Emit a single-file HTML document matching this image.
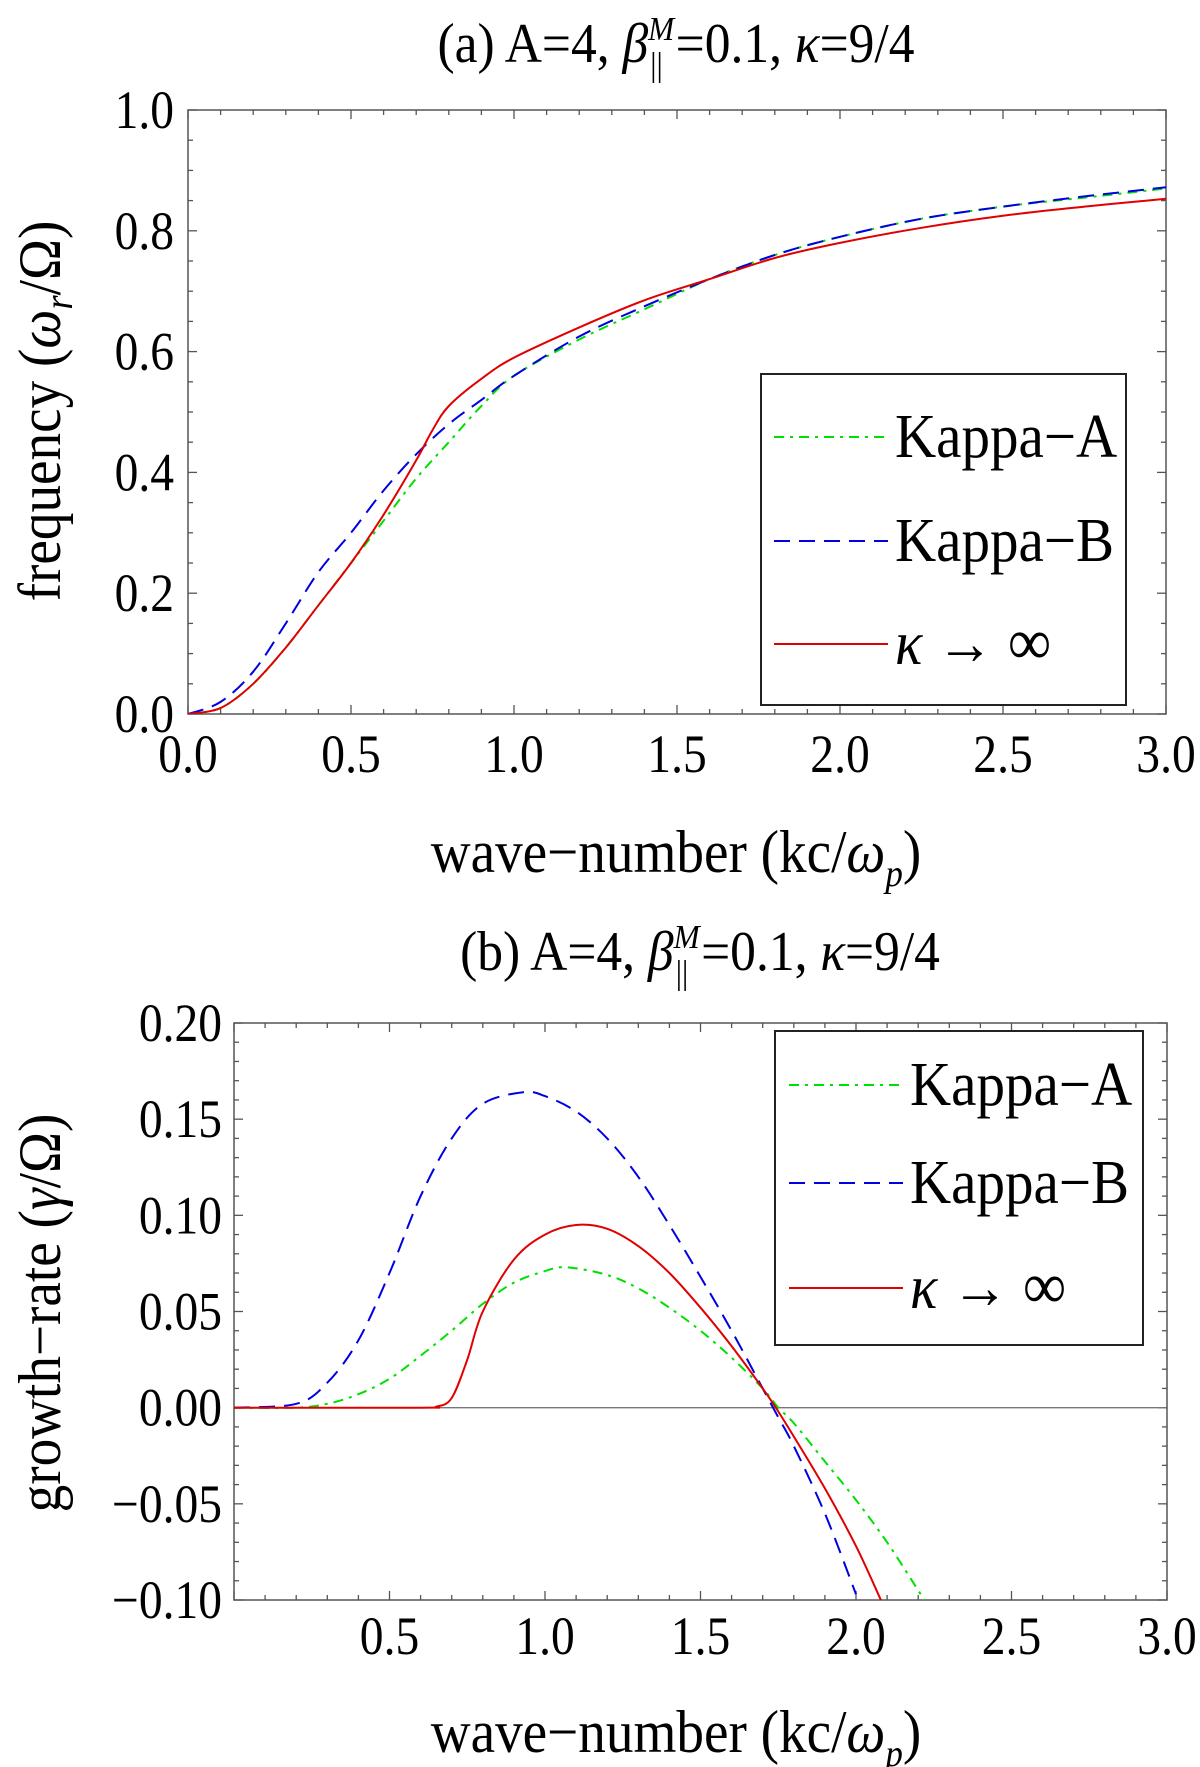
<!DOCTYPE html>
<html><head><meta charset="utf-8"><style>
body{margin:0;background:#fff;}
svg{display:block;font-family:"Liberation Serif",serif;}
</style></head><body>
<svg id="fig" width="1200" height="1767" viewBox="0 0 1200 1767" xmlns="http://www.w3.org/2000/svg"></svg>
<script>
// Panel (a) data: frequency
const aKappaAX=[0,0.1,0.2,0.3,0.4,0.5,0.6,0.7,0.8,0.9,1.0,1.2,1.4,1.6,1.8,2.0,2.25,2.5,2.75,3.0];
const aKappaAY=[0,0.01,0.05,0.11,0.18,0.25,0.32,0.39,0.45,0.51,0.56,0.62,0.67,0.72,0.76,0.79,0.82,0.84,0.855,0.87];
const aKappaBX=[0,0.1,0.2,0.3,0.4,0.5,0.6,0.7,0.8,0.9,1.0,1.2,1.4,1.6,1.8,2.0,2.25,2.5,2.75,3.0];
const aKappaBY=[0,0.02,0.07,0.15,0.235,0.3,0.37,0.43,0.48,0.52,0.56,0.625,0.675,0.72,0.76,0.79,0.82,0.84,0.857,0.872];
const aMaxwX=[0,0.1,0.2,0.3,0.4,0.5,0.6,0.7,0.75,0.8,0.9,1.0,1.2,1.4,1.6,1.8,2.0,2.25,2.5,2.75,3.0];
const aMaxwY=[0,0.01,0.05,0.11,0.18,0.25,0.33,0.42,0.47,0.51,0.555,0.59,0.64,0.685,0.72,0.755,0.78,0.805,0.825,0.84,0.853];
// Panel (b) data: growth rate
const bKappaAX=[0,0.2,0.3,0.4,0.5,0.6,0.7,0.8,0.9,1.0,1.07,1.2,1.3,1.4,1.5,1.6,1.7,1.75,1.8,1.9,2.0,2.1,2.2,2.22];
const bKappaAY=[0,0,0.002,0.007,0.015,0.027,0.04,0.054,0.065,0.071,0.073,0.069,0.062,0.052,0.04,0.026,0.01,0,-0.008,-0.028,-0.048,-0.07,-0.095,-0.1];
const bKappaBX=[0,0.2,0.3,0.4,0.5,0.6,0.7,0.8,0.93,1.0,1.1,1.2,1.3,1.4,1.5,1.6,1.7,1.75,1.8,1.9,2.0];
const bKappaBY=[0,0.002,0.013,0.035,0.07,0.11,0.14,0.158,0.164,0.162,0.154,0.14,0.12,0.095,0.068,0.04,0.01,-0.005,-0.02,-0.055,-0.097];
const bMaxwX=[0,0.6,0.65,0.7,0.75,0.8,0.9,1.0,1.1,1.2,1.3,1.4,1.5,1.6,1.7,1.75,1.8,1.9,2.0,2.08];
const bMaxwY=[0,0,0.0005,0.005,0.025,0.05,0.077,0.09,0.095,0.093,0.084,0.07,0.052,0.032,0.01,-0.002,-0.015,-0.042,-0.072,-0.1];
const aXTicks=["0.0","0.5","1.0","1.5","2.0","2.5","3.0"];
const aYTicks=["0.0","0.2","0.4","0.6","0.8","1.0"];
const bXTicks=["0.5","1.0","1.5","2.0","2.5","3.0"];
const bYTicks=["\u22120.10","\u22120.05","0.00","0.05","0.10","0.15","0.20"];
const legendLabels=["Kappa\u2212A","Kappa\u2212B","\u03BA \u2192 \u221E"];

const NS="http://www.w3.org/2000/svg";
const svg=document.getElementById('fig');
function mk(tag,attrs,parent){const e=document.createElementNS(NS,tag);for(const k in attrs)e.setAttribute(k,attrs[k]);(parent||svg).appendChild(e);return e;}
function stext(s,x,y,size,sx,anchor,parent,rot){
 const t=mk('text',{x:0,y:0,'font-size':size,'text-anchor':anchor,transform:'translate('+x+','+y+')'+(rot?' rotate(-90)':'')+' scale('+sx+',1)'},parent);
 t.innerHTML=s;return t;}
function path(xs,ys,sx,sy){const P=xs.map((x,i)=>[sx(x),sy(ys[i])]);
 let d='M'+P[0][0].toFixed(1)+','+P[0][1].toFixed(1);
 for(let i=0;i<P.length-1;i++){const p0=P[Math.max(0,i-1)],p1=P[i],p2=P[i+1],p3=P[Math.min(P.length-1,i+2)];
  const c1=[p1[0]+(p2[0]-p0[0])/6,p1[1]+(p2[1]-p0[1])/6],c2=[p2[0]-(p3[0]-p1[0])/6,p2[1]-(p3[1]-p1[1])/6];
  d+=' C'+c1[0].toFixed(1)+','+c1[1].toFixed(1)+' '+c2[0].toFixed(1)+','+c2[1].toFixed(1)+' '+p2[0].toFixed(1)+','+p2[1].toFixed(1);}
 return d;}
const styles=[{stroke:'#00e000',dash:'10,6,3,6'},{stroke:'#0000e0',dash:'16,9'},{stroke:'#e00000',dash:''}];

function panel(cfg){
 const g=mk('g',{});
 
 
 const {L,R,T,B,x0,x1,y0,y1}=cfg;
 const sx=v=>L+(v-x0)/(x1-x0)*(R-L), sy=v=>B-(v-y0)/(y1-y0)*(B-T);
 const tg=mk('g',{stroke:'#555','stroke-width':1.3},g);
 
 
 for(let v=x0;v<=x1+1e-9;v+=0.1){const X=sx(v);const maj=Math.abs(v*2-Math.round(v*2))<1e-6;const l=maj?9:5;
  mk('line',{x1:X,y1:B,x2:X,y2:B-l},tg);mk('line',{x1:X,y1:T,x2:X,y2:T+l},tg);}
 for(let v=y0;v<=y1+1e-9;v+=cfg.ymin){const Y=sy(v);const r=v/cfg.ymaj;const maj=Math.abs(r-Math.round(r))<1e-6;const l=maj?9:5;
  mk('line',{x1:L,y1:Y,x2:L+l,y2:Y},tg);mk('line',{x1:R,y1:Y,x2:R-l,y2:Y},tg);}
 if(cfg.zero){const z=mk('line',{x1:L,y1:sy(0),x2:R,y2:sy(0),stroke:'#777','stroke-width':1.3},g);
  }
 const fr=mk('rect',{x:L,y:T,width:R-L,height:B-T,fill:'none',stroke:'#555','stroke-width':1.5},g);
 
 cfg.xt.forEach(s=>{const v=parseFloat(s.replace('\u2212','-'));const t=stext(s,sx(v),cfg.xlY,54,0.88,'middle',g);
  });
 cfg.yt.forEach(s=>{const v=parseFloat(s.replace('\u2212','-'));const t=stext(s,cfg.ylX,sy(v)+18,54,0.88,'end',g);
  });
 const cp=mk('clipPath',{id:cfg.name+'-clip'},g);mk('rect',{x:L,y:T,width:R-L,height:B-T},cp);
 cfg.series.forEach((s,i)=>{const p=mk('path',{d:path(s[0],s[1],sx,sy),fill:'none',stroke:styles[i].stroke,'stroke-width':2,'stroke-dasharray':styles[i].dash,'clip-path':'url(#'+cfg.name+'-clip)'},g);
  });
 const lg=mk('g',{},g);
 
 const lb=cfg.leg;
 mk('rect',{x:lb.x,y:lb.y,width:lb.w,height:lb.h,fill:'#fff',stroke:'#222','stroke-width':2},lg);
 lb.rows.forEach((ry,i)=>{const e=mk('g',{},lg);
  
  mk('line',{x1:lb.lx,y1:ry,x2:lb.lx+114,y2:ry,stroke:styles[i].stroke,'stroke-width':2,'stroke-dasharray':styles[i].dash},e);
  if(i<2) stext(legendLabels[i],lb.lx+121,ry+20,62,0.92,'start',e);
  else stext('<tspan font-style="italic">κ</tspan> → <tspan font-size="66">∞</tspan>',lb.lx+121,ry+20,62,0.92,'start',e);});
 const ti=stext(cfg.title+' A=4, <tspan font-style="italic">β</tspan><tspan font-size="34" dy="-22" font-style="italic">M</tspan><tspan font-size="34" dx="-26" dy="36">||</tspan><tspan dy="-14"> =0.1, </tspan><tspan font-style="italic">κ</tspan>=9/4',cfg.tx,cfg.ty,56,0.92,'middle',g);
 
 const xl=stext('wave\u2212number (kc/<tspan font-style="italic">ω</tspan><tspan font-style="italic" font-size="38" dy="14">p</tspan><tspan dy="-14">)</tspan>',676,cfg.xty,60,0.92,'middle',g);
 
 const yl=stext(cfg.ylab,cfg.ytx,cfg.yty,60,0.92,'middle',g,true);
 
}
panel({name:'panel-a-frequency',L:188,R:1166,T:110,B:714,x0:0,x1:3,y0:0,y1:1,ymin:0.05,ymaj:0.2,
 xt:aXTicks,yt:aYTicks,xlY:772,ylX:174,zero:false,
 series:[[aKappaAX,aKappaAY],[aKappaBX,aKappaBY],[aMaxwX,aMaxwY]],
 leg:{x:761,y:374,w:365,h:331,lx:774,rows:[437,541,644]},
 title:'(a)',tx:676,ty:62,xty:872,ytx:60,yty:411,
 ylab:'frequency (<tspan font-style="italic">ω</tspan><tspan font-style="italic" font-size="40" dy="12">r</tspan><tspan dy="-12">/Ω)</tspan>'});
panel({name:'panel-b-growth-rate',L:234,R:1167,T:1023,B:1600,x0:0,x1:3,y0:-0.1,y1:0.2,ymin:0.01,ymaj:0.05,
 xt:bXTicks,yt:bYTicks,xlY:1654,ylX:222,zero:true,
 series:[[bKappaAX,bKappaAY],[bKappaBX,bKappaBY],[bMaxwX,bMaxwY]],
 leg:{x:775,y:1031,w:368,h:314,lx:789,rows:[1085,1183,1288]},
 title:'(b)',tx:700,ty:970,xty:1752,ytx:60,yty:1313,
 ylab:'growth\u2212rate (<tspan font-style="italic">γ</tspan>/Ω)'});
</script>
</body></html>
